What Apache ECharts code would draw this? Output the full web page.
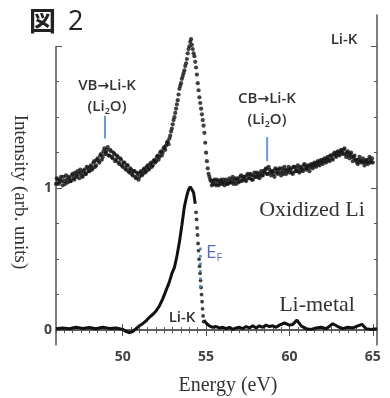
<!DOCTYPE html>
<html>
<head>
<meta charset="utf-8">
<script src="https://cdn.jsdelivr.net/npm/echarts@6/dist/echarts.min.js"></script>
<style>
html,body{margin:0;padding:0;background:#fff}
#chart{width:390px;height:398px}
</style>
</head>
<body>
<div id="chart"></div>
<script>
// Li-metal: solid part up to the peak, dotted falling edge, flat tail
const liEnergy = [46.0,46.4,46.8,47.2,47.6,48.0,48.4,48.8,49.2,49.6,50.0,50.2,50.4,50.6,50.8,51.0,51.2,51.4,51.6,51.8,52.0,52.2,52.4,52.6,52.8,52.95,53.1,53.25,53.4,53.55,53.7,53.85,53.95,54.05,54.15,54.25,54.35];
const liIntensity = [0.01,0.015,0.01,0.02,0.012,0.018,0.01,0.02,0.012,0.015,0.005,-0.01,-0.018,-0.01,0.01,0.03,0.045,0.065,0.09,0.11,0.135,0.17,0.22,0.28,0.34,0.40,0.44,0.52,0.62,0.74,0.87,0.95,0.99,1.01,1.02,0.97,0.89];
const liEdgeEnergy = [54.4,54.43,54.46,54.49,54.52,54.55,54.58,54.61,54.64,54.67,54.7,54.73,54.76,54.79,54.82,54.85];
const liEdgeIntensity = [0.83,0.78,0.72,0.67,0.61,0.56,0.50,0.45,0.40,0.35,0.30,0.25,0.20,0.15,0.10,0.06];
const liTailEnergy = [54.88,55.0,55.2,55.4,55.6,55.8,56.0,56.2,56.4,56.6,56.8,57.0,57.2,57.4,57.6,57.8,58.0,58.2,58.4,58.6,58.8,59.0,59.2,59.4,59.7,60.0,60.2,60.45,60.7,61.0,61.3,61.6,61.9,62.2,62.6,62.9,63.2,63.5,63.8,64.1,64.35,64.6,64.9,65.25];
const liTailIntensity = [0.07,0.05,0.03,0.02,0.025,0.015,0.02,0.01,0.02,0.005,0.015,0.02,0.01,0.025,0.015,0.03,0.015,0.03,0.02,0.035,0.025,0.03,0.02,0.035,0.05,0.035,0.04,0.07,0.03,0.01,0.005,0.015,0.02,0.01,0.045,0.025,0.01,0.02,0.015,0.03,0.04,0.01,0.005,0.01];

// Oxidized Li (offset +1): two interleaved scans, every 0.1 eV from 46.00 and 46.05
const oxStart = 46.0;
const oxStep = 0.1;
const oxIntensityA = [
  1.03,1.06,1.04,1.08,1.02,1.05,1.09,1.04,1.07,1.05,
  1.10,1.06,1.09,1.12,1.07,1.11,1.08,1.13,1.10,1.14,
  1.12,1.16,1.14,1.19,1.16,1.21,1.18,1.24,1.22,1.28,
  1.25,1.29,1.23,1.26,1.21,1.24,1.20,1.22,1.17,1.20,
  1.15,1.18,1.13,1.16,1.11,1.13,1.09,1.12,1.07,1.10,
  1.08,1.12,1.10,1.14,1.12,1.16,1.14,1.18,1.16,1.20,
  1.19,1.23,1.22,1.26,1.25,1.29,1.30,1.33,1.35,1.40,
  1.45,1.50,1.56,1.62,1.70,1.74,1.79,1.83,1.88,1.95,
  2.00,2.05,1.98,1.93,1.85,1.74,1.64,1.56,1.48,1.39,
  1.25,1.14,1.08,1.05,1.03,1.06,1.02,1.05,1.03,1.06,
  1.04,1.02,1.06,1.03,1.07,1.04,1.08,1.05,1.03,1.07,
  1.05,1.09,1.06,1.08,1.05,1.10,1.07,1.09,1.06,1.11,
  1.08,1.10,1.07,1.12,1.09,1.11,1.14,1.10,1.13,1.09,
  1.12,1.08,1.13,1.10,1.14,1.09,1.12,1.15,1.10,1.13,
  1.11,1.14,1.10,1.15,1.12,1.16,1.11,1.14,1.12,1.17,
  1.13,1.16,1.12,1.17,1.14,1.18,1.15,1.19,1.16,1.20,
  1.17,1.21,1.18,1.22,1.19,1.23,1.20,1.25,1.22,1.26,
  1.23,1.27,1.24,1.28,1.22,1.26,1.21,1.25,1.19,1.23,
  1.20,1.17,1.22,1.18,1.21,1.16,1.20,1.17,1.22,1.19,
  1.18
];
const oxIntensityB = [
  1.07,1.03,1.06,1.05,1.08,1.03,1.06,1.08,1.05,1.09,
  1.07,1.11,1.08,1.10,1.13,1.09,1.12,1.10,1.15,1.12,
  1.15,1.13,1.18,1.15,1.20,1.19,1.23,1.20,1.26,1.24,
  1.27,1.23,1.27,1.22,1.25,1.19,1.23,1.18,1.21,1.16,
  1.18,1.14,1.16,1.12,1.14,1.10,1.12,1.08,1.11,1.06,
  1.11,1.09,1.13,1.11,1.15,1.13,1.17,1.15,1.19,1.18,
  1.22,1.20,1.25,1.23,1.28,1.27,1.32,1.31,1.37,1.42,
  1.48,1.53,1.59,1.66,1.72,1.77,1.81,1.86,1.91,1.98,
  2.03,2.01,1.95,1.89,1.80,1.69,1.60,1.52,1.44,1.32,
  1.19,1.10,1.06,1.02,1.05,1.03,1.06,1.02,1.05,1.03,
  1.06,1.04,1.03,1.05,1.04,1.06,1.03,1.07,1.06,1.04,
  1.08,1.05,1.08,1.06,1.09,1.07,1.10,1.06,1.09,1.08,
  1.11,1.08,1.10,1.09,1.12,1.13,1.10,1.15,1.11,1.12,
  1.10,1.14,1.11,1.13,1.11,1.14,1.10,1.13,1.12,1.15,
  1.13,1.11,1.15,1.12,1.14,1.12,1.15,1.13,1.16,1.14,
  1.15,1.14,1.16,1.15,1.17,1.16,1.18,1.17,1.19,1.18,
  1.20,1.19,1.21,1.20,1.23,1.21,1.24,1.23,1.25,1.24,
  1.26,1.25,1.27,1.24,1.25,1.23,1.24,1.22,1.22,1.20,
  1.18,1.20,1.19,1.19,1.18,1.19,1.18,1.20,1.18,1.21
];

// marker positions
const vbMarker = [[48.94, 1.35], [48.94, 1.51]];
const cbMarker = [[58.66, 1.19], [58.66, 1.36]];
const efMarker = [[54.66, 0.30], [54.66, 0.60]];

// axis ticks
const xLabels = [50, 55, 60, 65];
const yLabels = [0, 1];
const xMinor = [];
for (let e = 46; e <= 65; e += 0.5) xMinor.push(e);
const yMinor = [0, 0.25, 0.5, 0.75, 1, 1.25, 1.5, 1.75, 2];

const zip = (a, b) => a.map((v, i) => [v, b[i]]);
const oxData = oxIntensityA.map((v, i) => [+(oxStart + i * oxStep).toFixed(2), v])
  .concat(oxIntensityB.map((v, i) => [+(oxStart + oxStep / 2 + i * oxStep).toFixed(2), v]));

const axisColor = '#555';
const labelFont = { color: '#444', fontSize: 14, fontWeight: 'bold', fontFamily: 'Open Sans' };

function xAx(pos, ticks, len, showLine, labels) {
  return {
    type: 'value', position: pos, min: 46, max: 65.25,
    axisLine: { show: showLine, lineStyle: { color: axisColor, width: 1.5 } },
    axisTick: { show: true, inside: true, length: len, customValues: ticks, lineStyle: { color: axisColor, width: 1 } },
    axisLabel: labels ? Object.assign({ customValues: labels, margin: 5 }, labelFont) : { show: false },
    splitLine: { show: false }
  };
}
function yAx(pos, ticks, len, showLine, labels) {
  return {
    type: 'value', position: pos, min: -0.105, max: 2.22,
    axisLine: { show: showLine, lineStyle: { color: axisColor, width: 1.5 } },
    axisTick: { show: true, inside: true, length: len, customValues: ticks, lineStyle: { color: axisColor, width: 1 } },
    axisLabel: labels ? Object.assign({ customValues: labels, margin: 4 }, labelFont) : { show: false },
    splitLine: { show: false }
  };
}

const chart = echarts.init(document.getElementById('chart'));
const black = '#111';
const blue = '#6b9ad6';
const sans = { fontFamily: 'Open Sans', fontSize: 15, fontWeight: 600, fill: '#333' };
const arrowRich = { a: { fontFamily: 'DejaVu Sans', fontSize: 14, fontWeight: 'bold', fill: '#333' },
                    s: { fontFamily: 'Open Sans', fontSize: 9, fontWeight: 600, fill: '#333', padding: [8, 0, 0, 0] } };

chart.setOption({
  backgroundColor: '#fff',
  animation: false,
  grid: { left: 56, right: 13, top: 15, bottom: 53 },
  xAxis: [
    xAx('bottom', xLabels, 6, true, xLabels),
    xAx('bottom', xMinor, 3, false, null),
    xAx('top', xLabels, 6, true, null),
    xAx('top', xMinor, 3, false, null)
  ],
  yAxis: [
    yAx('left', [0, 1, 2], 6, true, yLabels),
    yAx('left', yMinor, 3, false, null),
    yAx('right', [0, 1, 2], 6, true, null),
    yAx('right', yMinor, 3, false, null)
  ],
  series: [
    { name: 'Oxidized Li', type: 'scatter', data: oxData, symbolSize: 4.2,
      itemStyle: { color: black } },
    { name: 'Li-metal', type: 'line', data: zip(liEnergy, liIntensity), showSymbol: false,
      lineStyle: { color: black, width: 3 } },
    { name: 'Li-metal edge', type: 'scatter', data: zip(liEdgeEnergy, liEdgeIntensity), symbolSize: 3.8,
      itemStyle: { color: black } },
    { name: 'Li-metal tail', type: 'line', data: zip(liTailEnergy, liTailIntensity), showSymbol: false,
      lineStyle: { color: black, width: 3 } },
    { name: 'VB', type: 'line', data: vbMarker, showSymbol: false, lineStyle: { color: blue, width: 2 } },
    { name: 'CB', type: 'line', data: cbMarker, showSymbol: false, lineStyle: { color: blue, width: 2 } },
    { name: 'EF', type: 'line', data: efMarker, showSymbol: false,
      lineStyle: { color: '#5b82c4', width: 2.5, type: [2.5, 5] }, z: 3 }
  ],
  graphic: [
    { type: 'rect', shape: { x: 0, y: 0, width: 92, height: 46 }, style: { fill: '#fff' }, z: 100 },
    { type: 'text', x: 29, y: 21, z: 101, style: { text: '図', font: 'bold 27px "Noto Sans CJK JP"', fill: '#222', verticalAlign: 'middle' } },
    { type: 'text', x: 68, y: 22, z: 101, style: { text: '2', font: '27px "Open Sans"', fill: '#222', verticalAlign: 'middle' } },
    { type: 'text', x: 344, y: 40, style: Object.assign({ text: 'Li-K', align: 'center', verticalAlign: 'middle' }, sans) },
    { type: 'text', x: 107, y: 86, style: Object.assign({ text: 'VB{a|→}Li-K', align: 'center', verticalAlign: 'middle', rich: arrowRich }, sans) },
    { type: 'text', x: 107, y: 107, style: Object.assign({ text: '(Li{s|2}O)', align: 'center', verticalAlign: 'middle', rich: arrowRich }, sans) },
    { type: 'text', x: 267, y: 99, style: Object.assign({ text: 'CB{a|→}Li-K', align: 'center', verticalAlign: 'middle', rich: arrowRich }, sans) },
    { type: 'text', x: 267, y: 120, style: Object.assign({ text: '(Li{s|2}O)', align: 'center', verticalAlign: 'middle', rich: arrowRich }, sans) },
    { type: 'text', x: 312, y: 210, style: { text: 'Oxidized Li', font: '22px "Liberation Serif"', fill: '#333', align: 'center', verticalAlign: 'middle' } },
    { type: 'text', x: 317, y: 305, style: { text: 'Li-metal', font: '22px "Liberation Serif"', fill: '#333', align: 'center', verticalAlign: 'middle' } },
    { type: 'text', x: 182, y: 318, style: Object.assign({ text: 'Li-K', align: 'center', verticalAlign: 'middle' }, sans) },
    { type: 'text', x: 206, y: 253, style: { text: 'E{s|F}', font: '19px "Open Sans"', fill: '#5a6fb8', verticalAlign: 'middle',
      rich: { s: { fontSize: 11, fontFamily: 'Open Sans', fill: '#5a6fb8', padding: [10, 0, 0, 0] } } } },
    { type: 'text', x: 20, y: 192, rotation: -Math.PI / 2, style: { text: 'Intensity (arb. units)', font: '19px "Liberation Serif"', fill: '#333', align: 'center', verticalAlign: 'middle' } },
    { type: 'text', x: 228, y: 386, style: { text: 'Energy (eV)', font: '20px "Liberation Serif"', fill: '#333', align: 'center', verticalAlign: 'middle' } }
  ]
});
</script>
</body>
</html>
